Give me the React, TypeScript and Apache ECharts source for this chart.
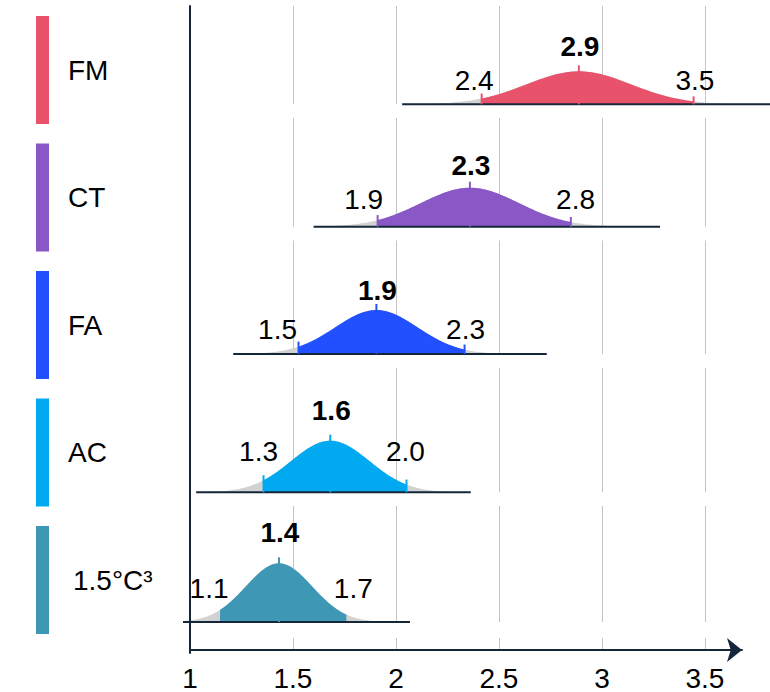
import React, { useEffect, useRef } from "react";
import * as echarts from "echarts";

// ---------- data ----------
const rowNames = ["FM", "CT", "FA", "AC", "1.5°C³"];
const rowColors = ["#E8536B", "#8A58C6", "#2350FF", "#00A9F0", "#3E97B5"];
const medians = [2.888, 2.359, 1.905, 1.681, 1.432];
const lows = [2.416, 1.911, 1.527, 1.357, 1.146];
const highs = [3.445, 2.849, 2.333, 2.051, 1.759];
const spreads = [0.253, 0.238, 0.2, 0.19, 0.161];
const peakHeights = [33, 39, 44, 51.6, 58.7];
const rangeStarts = [2.03, 1.6, 1.21, 1.03, 0.966];
const rangeEnds = [3.82, 3.282, 2.732, 2.363, 2.068];
const medianLabels = ["2.9", "2.3", "1.9", "1.6", "1.4"];
const lowLabels = ["2.4", "1.9", "1.5", "1.3", "1.1"];
const highLabels = ["3.5", "2.8", "2.3", "2.0", "1.7"];
const showBoundTicks = [true, true, true, true, false];
const xTicks = [1, 1.5, 2, 2.5, 3, 3.5];
const xMin = 1;
const xMax = 3.68;
const xInterval = 0.5;

// ---------- layout ----------
const W = 770;
const H = 692;
const GRID_LEFT = 190;
const GRID_RIGHT = 28;
const UNIT = (W - GRID_LEFT - GRID_RIGHT) / (xMax - xMin);
const ROW_LEFT = 170;
const ROW_RIGHT = 0;
const rowMin = xMin - (GRID_LEFT - ROW_LEFT) / UNIT;
const rowMax = xMin + (W - ROW_RIGHT - GRID_LEFT) / UNIT;
const rowTops = [6, 118, 240.5, 368, 506];
const rowBaselines = [104.3, 226.7, 354, 492.3, 622];
const loDx = [-7.5, -14, -21, -5, -11];
const hiDx = [1.3, 4.7, 1, -1, 7];
const sideDy = [24.3, 27.4, 24.7, 40.6, 33.7];
const medDy = [25, 22.7, 19.3, 30.7, 30.6];
const nameDistance = [19, 19, 19, 19, 24];
const FONT = "'Liberation Sans', Arial, sans-serif";
const FS = 28;
const AXIS_COLOR = "#15263A";
const GRID_COLOR = "#C4C4C4";
const TAIL_COLOR = "#D2D2D2";

function density(i: number, x: number) {
  const z = (x - medians[i]) / spreads[i];
  return peakHeights[i] * Math.exp(-0.5 * z * z);
}

function curve(i: number, a: number, b: number) {
  const pts: number[][] = [];
  const n = 160;
  for (let k = 0; k <= n; k++) {
    const x = a + ((b - a) * k) / n;
    pts.push([x, density(i, x)]);
  }
  return pts;
}

export default function App() {
  const ref = useRef<HTMLDivElement>(null);

  useEffect(() => {
    document.body.style.margin = "0";
    if (!ref.current) return;
    const chart = echarts.init(ref.current, undefined, { renderer: "svg" });

    const grids: any[] = [];
    const xAxes: any[] = [];
    const yAxes: any[] = [];
    const series: any[] = [];

    // row grids (0..4)
    rowNames.forEach((_, i) => {
      const h = rowBaselines[i] - rowTops[i];
      grids.push({ left: ROW_LEFT, right: ROW_RIGHT, top: rowTops[i], height: h });
      xAxes.push({ type: "value", gridIndex: i, min: rowMin, max: rowMax, show: false });
      yAxes.push({ type: "value", gridIndex: i, min: 0, max: h, show: false });
    });

    // bottom strip with the axis (5)
    grids.push({ left: GRID_LEFT, right: GRID_RIGHT, top: 638, height: 15 });
    xAxes.push({
      type: "value",
      gridIndex: 5,
      min: xMin,
      max: xMax,
      interval: xInterval,
      axisLine: {
        show: true,
        symbol: ["none", "arrow"],
        symbolSize: [18, 15],
        lineStyle: { color: AXIS_COLOR, width: 2 },
      },
      axisTick: { show: false },
      axisLabel: {
        show: true,
        showMaxLabel: false,
        margin: 14,
        fontSize: FS,
        color: "#000",
        fontFamily: FONT,
      },
      splitLine: {
        show: true,
        showMinLine: false,
        showMaxLine: false,
        lineStyle: { color: GRID_COLOR, width: 1 },
      },
    });
    yAxes.push({ type: "value", gridIndex: 5, min: 0, max: 1, show: false });

    // frame grid for vertical axis (6)
    grids.push({ left: GRID_LEFT, right: GRID_RIGHT, top: 6, height: 647 });
    xAxes.push({ type: "value", gridIndex: 6, min: xMin, max: xMax, show: false });
    yAxes.push({
      type: "value",
      gridIndex: 6,
      min: 0,
      max: 1,
      z: 10,
      axisLine: { show: true, onZero: false, lineStyle: { color: AXIS_COLOR, width: 2 } },
      axisTick: { show: false },
      axisLabel: { show: false },
      splitLine: { show: false },
    });

    // left colour bars (7)
    grids.push({ left: 36, width: 13, top: 6.25, height: 637.5 });
    xAxes.push({ type: "value", gridIndex: 7, min: 0, max: 1, show: false });
    yAxes.push({
      type: "category",
      gridIndex: 7,
      inverse: true,
      data: rowNames,
      show: false,
    });
    series.push({
      type: "bar",
      xAxisIndex: 7,
      yAxisIndex: 7,
      barWidth: 108,
      data: rowNames.map((name, i) => ({
        value: 1,
        itemStyle: { color: rowColors[i] },
        label: {
          show: true,
          position: "right",
          distance: nameDistance[i],
          formatter: name,
          fontSize: FS,
          color: "#000",
          fontFamily: FONT,
        },
      })),
    });

    const gridValues = xTicks.filter((v) => v > xMin);

    rowNames.forEach((_, i) => {
      // vertical grid lines of this row
      series.push({
        type: "custom",
        xAxisIndex: i,
        yAxisIndex: i,
        silent: true,
        z: 1,
        data: gridValues.map((v) => [v]),
        renderItem: (params: any, api: any) => {
          const p = api.coord([api.value(0), 0]);
          const x = Math.round(p[0]) + 0.5;
          return {
            type: "line",
            shape: { x1: x, y1: p[1], x2: x, y2: params.coordSys.y },
            style: { stroke: GRID_COLOR, lineWidth: 1 },
          };
        },
      });
      series.push({
        type: "line",
        xAxisIndex: i,
        yAxisIndex: i,
        data: curve(i, rangeStarts[i], rangeEnds[i]),
        showSymbol: false,
        silent: true,
        z: 2,
        lineStyle: { width: 0, opacity: 0 },
        areaStyle: { color: TAIL_COLOR, opacity: 1 },
      });
      series.push({
        type: "line",
        xAxisIndex: i,
        yAxisIndex: i,
        data: curve(i, lows[i], highs[i]),
        showSymbol: false,
        silent: true,
        z: 3,
        lineStyle: { width: 0, opacity: 0 },
        areaStyle: { color: rowColors[i], opacity: 1 },
      });
      series.push({
        type: "line",
        xAxisIndex: i,
        yAxisIndex: i,
        data: [
          [rangeStarts[i], 0],
          [rangeEnds[i], 0],
        ],
        showSymbol: false,
        clip: false,
        silent: true,
        z: 4,
        lineStyle: { width: 2, color: AXIS_COLOR },
      });
      series.push({
        type: "custom",
        xAxisIndex: i,
        yAxisIndex: i,
        clip: false,
        silent: true,
        z: 5,
        data: [
          [lows[i], density(i, lows[i])],
          [medians[i], density(i, medians[i])],
          [highs[i], density(i, highs[i])],
        ],
        renderItem: (params: any, api: any) => {
          const k = params.dataIndex;
          const x = api.value(0);
          const hv = api.value(1);
          const base = api.coord([x, 0]);
          const top = api.coord([x, hv]);
          const children: any[] = [];
          const isMed = k === 1;
          const ext = isMed ? 6 : 5;
          if (isMed || showBoundTicks[i]) {
            children.push({
              type: "line",
              shape: { x1: base[0], y1: base[1], x2: base[0], y2: top[1] - ext },
              style: { stroke: rowColors[i], lineWidth: 2 },
            });
          }
          let tx = base[0];
          let ty = base[1];
          let text = "";
          if (k === 0) {
            tx = base[0] + loDx[i];
            ty = base[1] - sideDy[i];
            text = lowLabels[i];
          } else if (k === 2) {
            tx = base[0] + hiDx[i];
            ty = base[1] - sideDy[i];
            text = highLabels[i];
          } else {
            tx = base[0] + 1;
            ty = top[1] - medDy[i];
            text = medianLabels[i];
          }
          children.push({
            type: "text",
            x: tx,
            y: ty,
            style: {
              text,
              fill: "#000",
              fontSize: FS,
              fontWeight: isMed ? "bold" : "normal",
              fontFamily: FONT,
              align: "center",
              verticalAlign: "middle",
            },
          });
          return { type: "group", children };
        },
      });
    });

    chart.setOption({
      animation: false,
      backgroundColor: "#fff",
      grid: grids,
      xAxis: xAxes,
      yAxis: yAxes,
      series,
    });

    return () => chart.dispose();
  }, []);

  return <div ref={ref} style={{ width: W, height: H }} />;
}
